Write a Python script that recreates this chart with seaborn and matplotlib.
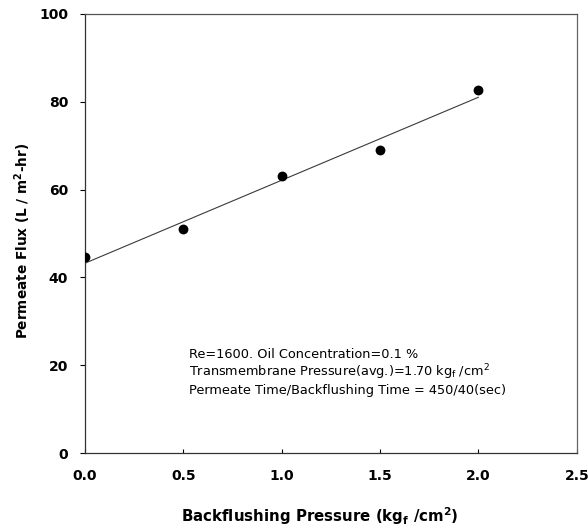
import matplotlib
matplotlib.use("Agg")
import matplotlib.pyplot as plt
import seaborn as sns
import numpy as np
import pandas as pd

backflush_pressure = [0.0, 0.5, 1.0, 1.5, 2.0]
permeate_flux = [44.6, 51.0, 63.2, 69.1, 82.8]
x_ticks = [0.0, 0.5, 1.0, 1.5, 2.0, 2.5]
y_ticks = [0, 20, 40, 60, 80, 100]
annotation_lines = [
    "Re=1600. Oil Concentration=0.1 %",
    r"Transmembrane Pressure(avg.)=1.70 kg$_\mathregular{f}$ /cm$^\mathregular{2}$",
    "Permeate Time/Backflushing Time = 450/40(sec)",
]

sns.set_style("ticks")
plt.rcParams['font.family'] = ['DejaVu Sans']
plt.rcParams['mathtext.default'] = 'regular'
plt.rcParams['text.color'] = 'black'
plt.rcParams['axes.labelcolor'] = 'black'
plt.rcParams['xtick.color'] = 'black'
plt.rcParams['ytick.color'] = 'black'

df = pd.DataFrame({"x": backflush_pressure, "y": permeate_flux})

fig = plt.figure(figsize=(5.88, 5.28), dpi=100)
ax = fig.add_axes([0.1446, 0.142, 0.8364, 0.8315])

sns.regplot(data=df, x="x", y="y", ax=ax, ci=None, truncate=True, color="black",
            scatter_kws=dict(s=50, color="black", edgecolor="black", linewidths=0,
                             alpha=1, zorder=3),
            line_kws=dict(color="#3a3a3a", lw=0.8, zorder=2))

ax.set_xlim(0, 2.5)
ax.set_ylim(0, 100)
ax.set_xticks(x_ticks)
ax.set_xticklabels([f"{v:.1f}" for v in x_ticks], fontsize=10, fontweight="bold")
ax.set_yticks(y_ticks)
ax.set_yticklabels([str(v) for v in y_ticks], fontsize=10, fontweight="bold")
ax.tick_params(axis="x", direction="in", length=3, width=0.8, pad=11.5, colors="black")
ax.tick_params(axis="y", direction="out", length=3.6, width=0.8, pad=8.5, colors="black")

for sp in ax.spines.values():
    sp.set_visible(True)
    sp.set_linewidth(0.9)
    sp.set_color("#333333")
ax.spines["right"].set_color("#666666")
ax.spines["top"].set_color("#555555")

ax.set_xlabel(r"Backflushing Pressure (kg$_\mathregular{f}$ /cm$^\mathregular{2}$)",
              fontsize=10.8, fontweight="bold", color="black")
ax.set_ylabel(r"Permeate Flux (L / m$^\mathregular{2}$-hr)",
              fontsize=9.8, fontweight="bold", color="black")
ax.xaxis.set_label_coords(0.478, -0.118)
ax.yaxis.set_label_coords(-0.106, 0.483)

for i, line in enumerate(annotation_lines):
    ax.text(0.211, 0.2164 - i * 0.041, line, transform=ax.transAxes,
            fontsize=9.3, ha="left", va="baseline", color="black")

fig.savefig("out.png", dpi=100)
